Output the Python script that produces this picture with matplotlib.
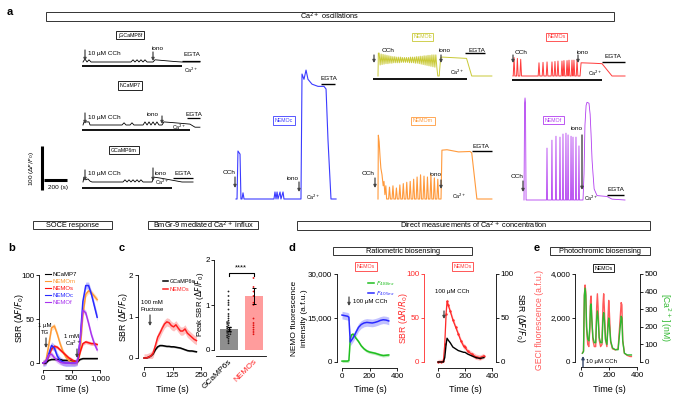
import numpy as np
import pandas as pd
import matplotlib
matplotlib.use("Agg")
import matplotlib.pyplot as plt
import seaborn as sns
from matplotlib.patches import Rectangle

plt.rcParams['font.family'] = ['Liberation Sans', 'DejaVu Sans']
plt.rcParams['font.size'] = 5.5
plt.rcParams['axes.linewidth'] = 0.6
plt.rcParams['xtick.major.width'] = 0.6
plt.rcParams['ytick.major.width'] = 0.6
plt.rcParams['xtick.major.size'] = 2.2
plt.rcParams['ytick.major.size'] = 2.2
plt.rcParams['xtick.major.pad'] = 1.5
plt.rcParams['ytick.major.pad'] = 1.2
plt.rcParams['xtick.labelsize'] = 5.8
plt.rcParams['ytick.labelsize'] = 5.8

# ---------------- data : panel a (time in s, dF/F0) ----------------
g8f_t = [0, 17, 35, 52, 70, 417, 435, 452, 470, 487, 504, 522, 539, 557, 609, 626, 713, 800, 861, 1017]
g8f_y = [0, 7, 0, 5, 0, 0, 5, 0, 5, 0, 5, 0, 5, 0, 0, 5, 3, 1, 0, 0]
nc7_t = [0, 9, 52, 61, 339, 357, 374, 409, 426, 443, 522, 539, 557, 574, 591, 609, 626, 643, 661,
         687, 704, 800, 930, 974, 1017]
nc7_y = [0, 7, 7, 0, 0, 5, 0, 0, 5, 0, 0, 7, 0, 7, 0, 7, 0, 7, 0, 0, 7, 5, 2, -5, -5]
g6m_t = [0, 9, 26, 43, 61, 78, 348, 365, 383, 400, 417, 435, 452, 470, 487, 504, 522, 600, 617, 670,
         757, 861, 957]
g6m_y = [0, 11, 5, 7, 2, 0, 0, 5, 0, 5, 0, 5, 0, 5, 0, 5, 0, 0, 11, 9, 5, 0, 0]

nemoc_t = [0, 9, 17, 35, 43, 52, 61, 70, 330, 339, 348, 357, 365, 383, 391, 409, 417, 557, 565, 574,
           591, 609, 626, 661, 713, 765, 783, 800, 826, 870]
nemoc_y = [0, 0, 109, 102, 0, 0, 14, 0, 0, 16, 0, 16, 0, 16, 0, 16, 0, 0, 0, 284, 272, 293, 272,
           261, 256, 256, 250, 134, 0, 0]

nemob_top = [52, 50, 49, 48, 47, 46, 45, 44, 44, 43, 43, 43, 42, 42, 42, 42, 43, 43, 43, 44, 44,
             45, 45, 46, 46, 47, 47, 48, 48, 48]
nemob_low = [25, 26, 27, 28, 28, 29, 29, 30, 30, 30, 30, 31, 31, 31, 31, 30, 30, 30, 29, 29, 28,
             27, 26, 25, 24, 23, 22, 21, 20, 20]
nemob_tail_t = [520, 532, 545, 560, 700, 770, 815, 990]
nemob_tail_y = [0, 0, 42, 43, 41, 40, 0, 0]

nemos_spk_t = [9, 38, 67, 226, 261, 296, 339, 365, 391, 426, 443, 470, 487, 513, 530, 557]
nemos_spk_y = [42, 40, 38, 30, 31, 32, 32, 33, 34, 34, 35, 35, 36, 36, 36, 37]
nemos_tail_t = [575, 583, 592, 700, 774, 861, 974]
nemos_tail_y = [0, 0, 30, 29, 28, 0, 0]

nemom_head_t = [0, 3, 10, 18, 25, 35, 45, 52, 60, 68, 75]
nemom_head_y = [0, 145, 130, 95, 70, 55, 30, 40, 10, 30, 0]
nemom_spk_t = [100, 130, 160, 190, 220, 250, 280, 310, 340, 370, 400, 430, 460, 490, 520]
nemom_spk_y = [27, 30, 25, 32, 35, 38, 40, 45, 50, 55, 52, 50, 55, 48, 45]
nemom_tail_t = [540, 548, 556, 600, 700, 800, 815, 860, 990]
nemom_tail_y = [0, 0, 111, 112, 107, 108, 105, 0, 0]

nemof_head_t = [0, 5, 9, 13, 18]
nemof_head_y = [0, 220, 232, 220, 0]
nemof_spk_t = [200, 243, 278, 313, 339, 365, 383, 409, 426, 452, 478]
nemof_spk_y = [118, 136, 145, 143, 150, 152, 148, 145, 143, 143, 123]
nemof_tail_t = [500, 513, 522, 530, 540, 548, 565, 575, 583, 592, 600, 610, 635, 722, 765, 878]
nemof_tail_y = [0, 0, 60, 170, 215, 222, 220, 195, 150, 90, 60, 25, 10, 8, 2, 0]

# ---------------- data : panel b ----------------
b_t = [0, 50, 100, 150, 200, 250, 300, 350, 400, 450, 500, 550, 600, 650, 700, 750, 800, 850, 900, 950]
b_ncamp7 = [0, 0, 3, 4, 4, 4, 4, 3, 3, 3, 2, 2, 1, 4, 5, 5, 5, 5, 5, 5]
b_nemom = [0, 2, 20, 40, 42, 33, 22, 13, 7, 3, 1, 1, 1, 12, 55, 78, 82, 80, 76, 72]
b_nemos = [0, 1, 8, 16, 19, 18, 15, 12, 9, 6, 4, 2, 1, 12, 22, 24, 23, 22, 22, 21]
b_nemoc = [0, 1, 10, 20, 17, 8, 3, 1, 0, 0, 0, 0, 1, 25, 70, 88, 88, 78, 65, 52]
b_nemof = [0, 2, 9, 10, 6, 3, 1, 0, 0, 0, 0, 0, 1, 25, 60, 57, 45, 32, 22, 15]
b_err = [0.8, 3, 2, 4, 3]

# ---------------- data : panel c ----------------
c_t = [0, 10, 20, 30, 40, 50, 60, 70, 80, 90, 100, 110, 120, 130, 140, 150, 160, 170, 180, 190,
       200, 210, 220, 230]
c_gcamp = [0, 0, 0.02, 0.05, 0.1, 0.2, 0.27, 0.3, 0.3, 0.29, 0.28, 0.28, 0.27, 0.27, 0.26, 0.25,
           0.24, 0.22, 0.2, 0.18, 0.17, 0.17, 0.16, 0.15]
c_nemos = [0, 0, 0.02, 0.05, 0.12, 0.3, 0.5, 0.6, 0.72, 0.82, 0.87, 0.85, 0.78, 0.75, 0.8, 0.72,
           0.65, 0.65, 0.7, 0.6, 0.55, 0.5, 0.45, 0.42]
peak_names = ['GCaMP6s', 'NEMOs']
peak_mean = [0.47, 1.2]
peak_err = [0.05, 0.18]
peak_gcamp = [0.15, 0.2, 0.25, 0.28, 0.3, 0.32, 0.35, 0.35, 0.38, 0.4, 0.4, 0.42, 0.45, 0.45, 0.48,
              0.5, 0.5, 0.52, 0.55, 0.58, 0.6, 0.62, 0.65, 0.7, 0.75, 0.8, 0.9, 1.0, 1.05, 1.1, 1.2, 1.3]
peak_nemos = [0.35, 0.4, 0.45, 0.5, 0.55, 0.6, 0.7, 1.0, 1.05, 1.2, 1.3, 1.4, 1.6]

# ---------------- data : panel d ----------------
d_t = [0, 20, 40, 50, 55, 60, 70, 80, 90, 100, 120, 140, 160, 180, 200, 220, 240, 260, 280, 300, 320, 340]
d_f488 = [300, 300, 300, 500, 4000, 8000, 9300, 9500, 9000, 8200, 7000, 5500, 4500, 3800, 3400, 3200,
          3000, 2700, 2400, 2200, 2300, 2400]
d_f405 = [16000, 15800, 15600, 15300, 11000, 6800, 7500, 8200, 9000, 10000, 11800, 12800, 13300, 13500,
          13400, 13300, 13500, 13800, 14200, 14400, 14300, 14000]
dr_t = [0, 20, 40, 50, 60, 67, 75, 90, 110, 130, 150, 170, 190, 200, 220, 250, 280, 310, 340]
dr_ratio = [0, 0, 1, 20, 55, 69, 65, 58, 48, 40, 32, 24, 18, 17, 12, 9, 6, 5, 7]
dr_dff = [0, 0, 0, 5, 20, 27, 25, 22, 17, 15, 13, 12, 11, 11, 9, 7, 5, 4, 5]

# ---------------- data : panel e ----------------
e_t = [10, 18, 24, 29, 34, 40, 48, 56, 63, 68, 72, 77, 85, 95, 105, 112, 117, 122, 130, 140, 150, 157,
       162, 167, 175, 185, 193, 198, 203, 212, 225, 245, 265, 280, 287, 292, 298, 310, 330, 350, 360]
e_geci = [400, 500, 3000, 3500, 3200, 1500, 800, 700, 1500, 2800, 3000, 2000, 1000, 700, 700, 2500,
          3100, 2500, 1000, 700, 800, 2600, 3100, 2400, 1000, 700, 2000, 2800, 2200, 900, 600, 550,
          600, 2000, 2700, 2600, 1000, 400, 300, 250, 250]
e_ca = [50, 60, 380, 420, 380, 200, 130, 120, 200, 320, 330, 250, 140, 110, 110, 250, 290, 250, 140,
        110, 110, 250, 280, 240, 130, 100, 200, 250, 210, 120, 80, 70, 70, 200, 260, 250, 120, 50, 40,
        40, 40]

# ---------------- figure helpers ----------------
W, H = 678, 398
SX, SY = 0.115, 0.44   # panel a scale: px per s, px per dF/F0

fig = plt.figure(figsize=(W / 100, H / 100), dpi=100)

ax_a = fig.add_axes([0, 0, 1, 1])
ax_a.set_xlim(0, W / SX)
ax_a.set_ylim(0, H / SY)
ax_a.axis('off')
ax_a.set_zorder(5)


def P(x, y):
    return x / SX, (H - y) / SY


def axpx(x0, x1, y0, y1):
    return fig.add_axes([x0 / W, 1 - y1 / H, (x1 - x0) / W, (y1 - y0) / H])


def txt(x, y, s, size=4.6, color='k', ha='center', va='center', **kw):
    return fig.text(x / W, 1 - y / H, s, fontsize=size, color=color, ha=ha, va=va, **kw)


def lbox(x, y, s, color):
    txt(x, y, s, size=3.8, color=color,
        bbox=dict(boxstyle='square,pad=0.3', fc='white', ec=color, lw=0.6))


def sbox(x0, x1, y0, y1, s, size=5.3):
    fig.add_artist(Rectangle((x0 / W, 1 - y1 / H), (x1 - x0) / W, (y1 - y0) / H,
                             transform=fig.transFigure, fill=False, lw=0.7, ec='#333333'))
    txt((x0 + x1) / 2, (y0 + y1) / 2 + 0.3, s, size=size)


def arrow(x, y0, y1, color='#444444', lw=0.9):
    ax_a.annotate('', xy=P(x, y1), xytext=P(x, y0),
                  arrowprops=dict(arrowstyle='-|>', lw=lw, color=color, shrinkA=0, shrinkB=0,
                                  mutation_scale=4))


def trace(t, y, x0, ybase, color, lw=0.7):
    ax_a.plot(x0 / SX + np.asarray(t, float), (H - ybase) / SY + np.asarray(y, float),
              color=color, lw=lw)


def pbar(t0, t1, x0, ypx, lw=1.0):
    ax_a.plot([x0 / SX + t0, x0 / SX + t1], [(H - ypx) / SY] * 2, color='k', lw=lw,
              solid_capstyle='butt')


def pulses(tp, hp, w):
    t, y = [], []
    for a, h in zip(tp, hp):
        t += [a - w, a, a + w]
        y += [0, h, 0]
    return t, y


def style(ax, lo, bo):
    ax.spines[['top', 'right']].set_visible(False)
    ax.spines['left'].set_position(('outward', lo * 0.72))
    ax.spines['bottom'].set_position(('outward', bo * 0.72))
    ax.patch.set_visible(False)


# ---------------- panel a ----------------
txt(10, 12, 'a', size=8, weight='bold')
sbox(46, 614, 12, 21, 'Ca$^{2+}$ oscillations')

# GECI rows
trace(g8f_t, g8f_y, 83, 62, 'k', 0.6)
pbar(-9, 861, 83, 66, 1.3)
pbar(861, 1017, 83, 61, 0.9)
lbox(130, 35, 'jGCaMP8f', 'k')
arrow(85, 50, 61)
txt(88, 54, '10 µM CCh', ha='left')
txt(158, 48, 'iono')
arrow(153, 52, 61)
txt(192, 54, 'EGTA')
txt(184, 70, 'Ca$^{2+}$', size=3.8, ha='left')

trace(nc7_t, nc7_y, 83, 125, 'k', 0.6)
pbar(-9, 930, 83, 130, 1.3)
pbar(904, 1017, 83, 118, 0.9)
lbox(130, 85.5, 'NCaMP7', 'k')
arrow(85, 113, 124)
txt(88, 118, '10 µM CCh', ha='left')
txt(153, 114, 'iono')
arrow(162, 116, 124)
txt(194, 114, 'EGTA')
txt(172, 127, 'Ca$^{2+}$', size=3.8, ha='left')

trace(g6m_t, g6m_y, 83, 182, 'k', 0.6)
pbar(-9, 774, 83, 188, 1.3)
pbar(783, 957, 83, 178, 0.9)
lbox(124, 150, 'GCaMP6m', 'k')
arrow(85, 170, 181)
txt(88, 174, '10 µM CCh', ha='left')
txt(161, 173, 'iono')
arrow(153, 168, 181)
txt(183, 173, 'EGTA')
txt(155, 182, 'Ca$^{2+}$', size=3.8, ha='left')

# scale bars
x0, y0 = P(42, 190)
ax_a.plot([x0, x0], [y0, y0 + 100], color='k', lw=2.2, solid_capstyle='butt')
x0, y0 = P(44, 180)
ax_a.plot([x0, x0 + 200], [y0, y0], color='k', lw=2.2, solid_capstyle='butt')
txt(32, 168, '100 ($\\Delta F/F_0$)', rotation=90, size=4.6)
txt(58, 187, '200 (s)', size=4.6)

# NEMOc
cc = '#3b3bff'
trace(nemoc_t, nemoc_y, 236, 199, cc, 0.8)
pbar(739, 861, 236, 84, 1.0)
lbox(284, 120.5, 'NEMOc', cc)
txt(229, 172, 'CCh')
arrow(235, 177, 188)
txt(293, 178, 'iono')
arrow(299, 182, 192)
txt(306, 197, 'Ca$^{2+}$', size=3.8, ha='left')
txt(329, 79, 'EGTA')

# NEMOb
cb = '#c9c936'
osc_t = np.arange(len(nemob_top) * 2) * 8.5 + 10
osc_y = np.ravel(np.column_stack([nemob_top, nemob_low]))
trace([0, 3] + list(osc_t) + nemob_tail_t, [0, 52] + list(osc_y) + nemob_tail_y, 378, 76, cb, 0.7)
pbar(-43, 774, 378, 79, 1.3)
pbar(757, 930, 378, 53, 1.0)
lbox(422.5, 37, 'NEMOb', cb)
txt(388, 51, 'CCh')
arrow(374, 55, 63)
txt(445, 51, 'iono')
arrow(441, 55, 63)
txt(477, 50, 'EGTA')
txt(450, 72, 'Ca$^{2+}$', size=3.8, ha='left')

# NEMOs
cs = '#ff3b3b'
st, sy = pulses(nemos_spk_t, nemos_spk_y, 7)
trace([0] + st + nemos_tail_t, [0] + sy + nemos_tail_y, 513, 76, cs, 0.7)
pbar(-9, 774, 513, 80, 1.3)
pbar(774, 974, 513, 62, 1.0)
lbox(556.5, 37, 'NEMOs', cs)
txt(521, 52, 'CCh')
arrow(513, 55, 63)
txt(583, 52, 'iono')
arrow(578, 55, 63)
txt(613, 56, 'EGTA')
txt(588, 73, 'Ca$^{2+}$', size=3.8, ha='left')

# NEMOm
cm = '#ff9a3c'
st, sy = pulses(nemom_spk_t, nemom_spk_y, 8)
trace(nemom_head_t + st + nemom_tail_t, nemom_head_y + sy + nemom_tail_y, 378, 199, cm, 0.8)
pbar(817, 991, 378, 151, 1.0)
lbox(423, 121, 'NEMOm', cm)
txt(368, 173, 'CCh')
arrow(375, 178, 188)
txt(436, 175, 'iono')
arrow(441, 180, 189)
txt(481, 147, 'EGTA')
txt(452, 196, 'Ca$^{2+}$', size=3.8, ha='left')

# NEMOf
cf = '#b23cf0'
st, sy = pulses(nemof_spk_t, nemof_spk_y, 4)
trace(nemof_head_t + st + nemof_tail_t, nemof_head_y + sy + nemof_tail_y, 524, 200, cf, 0.6)
pbar(722, 870, 524, 195, 1.0)
lbox(553.5, 120, 'NEMOf', cf)
txt(577, 129, 'iono')
arrow(582, 135, 190, lw=1.0)
txt(517, 177, 'CCh')
arrow(523, 181, 192)
txt(616, 190, 'EGTA')
txt(584, 198, 'Ca$^{2+}$', size=3.8, ha='left')

# ---------------- section boxes row ----------------
sbox(33, 112, 221, 229, 'SOCE response')
sbox(148, 258, 221, 229, 'BmGr-9 mediated Ca$^{2+}$ influx')
sbox(297, 650, 221, 230, 'Direct measurements of Ca$^{2+}$ concentration')
sbox(333, 472, 247, 255, 'Ratiometric biosensing')
sbox(550, 650, 247, 255, 'Photochromic biosensing')
for lab, x in [('b', 12), ('c', 122), ('d', 292), ('e', 537)]:
    txt(x, 248, lab, size=8, weight='bold')

# ---------------- panel b ----------------
ax = axpx(43, 100, 275, 363)
style(ax, 4, 7)
b_series = [('NCaMP7', b_ncamp7, 'k'), ('NEMOm', b_nemom, '#ff9933'), ('NEMOs', b_nemos, '#ff1010'),
            ('NEMOc', b_nemoc, '#2a2aff'), ('NEMOf', b_nemof, '#a833ee')]
for (name, vals, col), err in zip(b_series, b_err):
    v = np.asarray(vals, float)
    ax.fill_between(b_t, v - err, v + err, color=col, alpha=0.3, lw=0, clip_on=False)
    ax.plot(b_t, v, color=col, lw=1.1, label=name, clip_on=False)
ax.set_xlim(0, 1000)
ax.set_ylim(0, 100)
ax.set_xticks([0, 500, 1000], ['0', '500', '1,000'])
ax.set_yticks([0, 50, 100])
ax.spines['left'].set_bounds(0, 100)
ax.spines['bottom'].set_bounds(0, 1000)
leg = ax.legend(loc='upper left', bbox_to_anchor=(42 / W, 1 - 269 / H), bbox_transform=fig.transFigure,
                fontsize=4.3, frameon=False, handlelength=1.0, handletextpad=0.3, labelspacing=0.3,
                borderpad=0, labelcolor='linecolor')
for h in leg.get_lines():
    h.set_linewidth(0.8)
txt(19, 318, 'SBR ($\\Delta F/F_0$)', size=6.2, rotation=90)
txt(72, 390, 'Time (s)', size=6.5)
txt(45, 326, '1 µM', size=4.3)
txt(45, 333, 'TG', size=4.3)
arrow(46, 338, 348)
txt(72, 337, '1 mM', size=4.3)
txt(73, 343.5, 'Ca$^{2+}$', size=4.3)
arrow(77, 349, 358)

# ---------------- panel c (time course) ----------------
ax = axpx(144, 201, 275, 358)
style(ax, 6, 9)
cg = np.asarray(c_gcamp)
cn = np.asarray(c_nemos)
ax.fill_between(c_t, cg - 0.02, cg + 0.02, color='k', alpha=0.3, lw=0)
ax.fill_between(c_t, cn - 0.1, cn + 0.1, color='#ff3030', alpha=0.3, lw=0)
ax.plot(c_t, cg, color='k', lw=1.1, label='GCaMP6s', clip_on=False)
ax.plot(c_t, cn, color='#ff2020', lw=1.1, label='NEMOs', clip_on=False)
ax.set_xlim(0, 250)
ax.set_ylim(0, 2)
ax.set_xticks([0, 125, 250])
ax.set_yticks([0, 1, 2])
ax.spines['left'].set_bounds(0, 2)
ax.legend(loc='upper left', bbox_to_anchor=(160 / W, 1 - 276 / H), bbox_transform=fig.transFigure,
          fontsize=4.0, frameon=False, handlelength=0.9, handletextpad=0.3, labelspacing=0.6,
          borderpad=0, labelcolor='linecolor')
txt(123, 317, 'SBR ($\\Delta F/F_0$)', size=6.2, rotation=90)
txt(172, 390, 'Time (s)', size=6.5)
txt(152, 303, '100 mM', size=4.3)
txt(152, 309.5, 'Fructose', size=4.3)
arrow(150, 315, 326)

# ---------------- panel c (peak bars) ----------------
ax = axpx(216, 266, 260, 350)
style(ax, 2, 6)
ax.bar([0, 1], peak_mean, width=0.72, color=['#8e8e8e', '#ff9c9c'], zorder=1)
ax.errorbar([0, 1], peak_mean, yerr=peak_err, fmt='none', ecolor='k', elinewidth=0.7,
            capsize=1.5, capthick=0.7, zorder=3)
df = pd.DataFrame({'grp': ['GCaMP6s'] * len(peak_gcamp) + ['NEMOs'] * len(peak_nemos),
                   'val': peak_gcamp + peak_nemos})
sns.swarmplot(data=df, x='grp', y='val', hue='grp', palette=['#222222', '#e01010'], size=1.3,
              ax=ax, legend=False, zorder=2)
ax.plot([0, 0, 1, 1], [1.65, 1.72, 1.72, 1.65], color='k', lw=0.8)
ax.text(0.5, 1.74, '****', ha='center', va='bottom', fontsize=5.5)
ax.set_xlim(-0.5, 1.5)
ax.set_ylim(0, 2)
ax.set_yticks([0, 1, 2])
ax.tick_params(axis='y', pad=0.6)
ax.set_xticks([0, 1], peak_names, rotation=45, ha='right', rotation_mode='anchor', fontsize=6)
ax.get_xticklabels()[1].set_color('#ff2020')
ax.set_xlabel('')
ax.set_ylabel('')
ax.tick_params(axis='x', length=0)
txt(200, 304, 'Peak SBR ($\\Delta F/F_0$)', size=5.6, rotation=90)

# ---------------- panel d (intensities) ----------------
ax = axpx(342, 397, 274, 362)
style(ax, 5, 6)
g = np.asarray(d_f488, float)
b = np.asarray(d_f405, float)
ax.fill_between(d_t, g - 500, g + 500, color='#22bb22', alpha=0.3, lw=0)
ax.fill_between(d_t, b - 1300, b + 1300, color='#3333ff', alpha=0.3, lw=0)
ax.plot(d_t, g, color='#1fbf1f', lw=1.1, label='$F_{488ex}$', clip_on=False)
ax.plot(d_t, b, color='#2a2aff', lw=1.1, label='$F_{405ex}$', clip_on=False)
ax.set_xlim(0, 400)
ax.set_ylim(0, 30000)
ax.set_xticks([0, 200, 400])
ax.set_yticks([0, 15000, 30000], ['0', '15,000', '30,000'])
ax.legend(loc='upper left', bbox_to_anchor=(365 / W, 1 - 276 / H), bbox_transform=fig.transFigure,
          fontsize=4.5, frameon=False, handlelength=1.0, handletextpad=0.3, labelspacing=0.2,
          borderpad=0, labelcolor='linecolor')
txt(295, 318, 'NEMO fluorescence', size=6.0, rotation=90)
txt(304, 318, 'intensity (a.f.u.)', size=6.0, rotation=90)
txt(370, 390, 'Time (s)', size=6.5)
lbox(366, 266.5, 'NEMOs', '#ff3b3b')
arrow(349, 297, 306)
txt(353, 301, '100 µM CCh', size=4.4, ha='left')

# ---------------- panel d (SBR) ----------------
ax = axpx(438, 492, 274, 362)
style(ax, 14, 6)
r = np.asarray(dr_ratio, float)
ax.fill_between(dr_t, r - 3, r + 3, color='#ff3030', alpha=0.3, lw=0)
ax.plot(dr_t, r, color='#ff2a2a', lw=0.9, marker='.', ms=1.5, clip_on=False)
ax.set_xlim(0, 400)
ax.set_ylim(0, 100)
ax.set_xticks([0, 200, 400])
ax.set_yticks([0, 50, 100])
ax.spines['left'].set_color('#ff2a2a')
ax.tick_params(axis='y', colors='#ff2a2a')
ax2 = ax.twinx()
ax2.spines[['top', 'left', 'bottom']].set_visible(False)
ax2.spines['right'].set_position(('outward', 4 * 0.72))
ax2.plot(dr_t, dr_dff, color='k', lw=1.0, clip_on=False)
ax2.set_ylim(0, 100)
ax2.set_yticks([0, 50, 100])
txt(404, 318, 'SBR ($\\Delta R/R_0$)', size=6.2, rotation=90, color='#ff2a2a')
txt(521, 318, 'SBR ($\\Delta F/F_0$)', size=6.2, rotation=270)
txt(465, 390, 'Time (s)', size=6.5)
lbox(462.5, 266.5, 'NEMOs', '#ff3b3b')
txt(452, 291, '100 µM CCh', size=4.4)
arrow(444, 311, 319)

# ---------------- panel e ----------------
ax = axpx(581, 637, 274, 362)
style(ax, 6, 5)
ax.plot(e_t, e_geci, color='#ff5a5a', lw=1.0)
ax.set_xlim(0, 400)
ax.set_ylim(0, 4000)
ax.set_xticks([0, 200, 400])
ax.set_yticks([0, 2000, 4000], ['0', '2,000', '4,000'])
ax2 = ax.twinx()
ax2.spines[['top', 'left', 'bottom']].set_visible(False)
ax2.spines['right'].set_position(('outward', 3 * 0.72))
ax2.plot(e_t, e_ca, color='#2fb82f', lw=1.0)
ax2.set_ylim(0, 500)
ax2.set_yticks([0, 100, 200, 300, 400, 500])
txt(540, 320, 'GECI fluorescence (a.f.u.)', size=6.2, rotation=90, color='#ff5a5a')
txt(665, 318, '[Ca$^{2+}$] (nM)', size=6.2, rotation=270, color='#2fb82f')
txt(609, 389, 'Time (s)', size=6.5)
lbox(603.5, 268, 'NEMOs', 'k')
arrow(583, 367, 356, color='#334466', lw=1.0)
txt(586, 361, '10 µM CCh', size=4.4, ha='left')

fig.savefig('out.png', dpi=100)
